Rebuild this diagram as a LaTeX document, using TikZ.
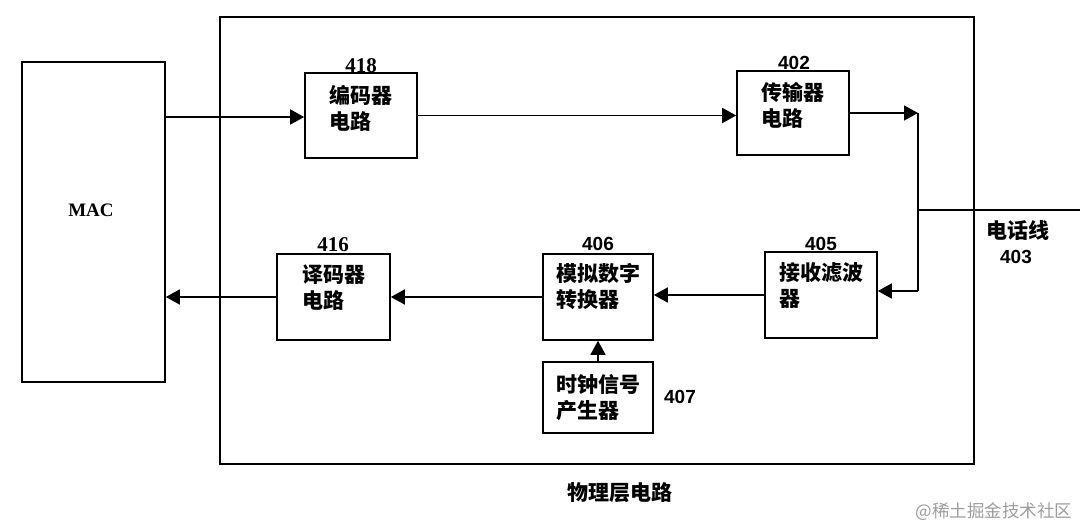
\documentclass[tikz,border=0pt]{standalone}
\usepackage{fontspec}
\usetikzlibrary{arrows.meta}
\setmainfont{Liberation Serif}
\newfontfamily\cjk{Noto Sans CJK SC}
\newfontfamily\numf{Liberation Sans}
\tikzset{
  blk/.style={draw, line width=1.6pt, inner sep=0pt},
  txt/.style={align=left, inner sep=0pt, font=\cjk\bfseries\fontsize{21}{26}\selectfont},
  lbl/.style={inner sep=0pt, font=\numf\bfseries\fontsize{19}{20}\selectfont},
  slbl/.style={inner sep=0pt, font=\bfseries\fontsize{21}{22}\selectfont},
  arr/.style={line width=1.6pt, -{Triangle[length=14pt,width=15pt]}},
  ln/.style={line width=1.5pt}
}
\begin{document}
\begin{tikzpicture}[x=1pt,y=-1pt]
\useasboundingbox[fill=white] (0,0) rectangle (1080,529);
% outer boxes
\node[blk, line width=1.4pt, minimum width=754pt, minimum height=447pt] (phy) at (597,240.5) {};
\node[blk, minimum width=143pt, minimum height=320pt] (mac) at (93.5,222) {};
\node[inner sep=0pt, font=\bfseries\fontsize{19}{20}\selectfont] (macT) at (91,210) {MAC};
% blocks
\node[blk, minimum width=112pt, minimum height=85pt] (enc) at (361,115.5) {};
\node[txt] (encT) at ([yshift=7pt]enc.center) {编码器\\电路};
\node[slbl] (encL) at (361,66) {418};

\node[blk, minimum width=112pt, minimum height=84pt] (tx) at (793,113) {};
\node[txt] (txT) at ([yshift=7.5pt]tx.center) {传输器\\电路};
\node[lbl] (txL) at (794,63) {402};

\node[blk, minimum width=113pt, minimum height=86pt] (dec) at (333.5,297) {};
\node[txt] (decT) at ([yshift=9pt]dec.center) {译码器\\电路};
\node[slbl] (decL) at (333,245) {416};

\node[blk, minimum width=110pt, minimum height=86pt] (adc) at (598,297) {};
\node[txt] (adcT) at ([yshift=10pt]adc.center) {模拟数字\\转换器};
\node[lbl] (adcL) at (598,243.5) {406};

\node[blk, minimum width=112pt, minimum height=86pt] (rx) at (821,295) {};
\node[txt] (rxT) at ([yshift=9pt]rx.center) {接收滤波\\器};
\node[lbl] (rxL) at (821,243.5) {405};

\node[blk, minimum width=110pt, minimum height=71pt] (clk) at (598,397.5) {};
\node[txt] (clkT) at (clk.center) {时钟信号\\产生器};
\node[lbl] (clkL) at (680,397) {407};

% phone line labels
\node[txt, align=center] (telT) at (1018,230) {电话线};
\node[lbl] (telL) at (1016,257) {403};

% caption and watermark
\node[txt] (cap) at (620,493) {物理层电路};
\node[inner sep=0pt, text=black!38, font=\cjk\fontsize{17.5}{20}\selectfont] (wm) at (994,512) {@稀土掘金技术社区};

% junctions
\coordinate (j1) at (918,113);
\coordinate (j2) at (918,291);
\coordinate (j3) at (918,210);
\coordinate (tel) at (1080,210);

% connectors
\draw[arr] (mac.east |- 0,117) -- (mac.east |- 0,117 -| enc.west);
\draw[arr] (enc.east) -- (enc.east -| tx.west);
\draw[arr] (tx.east) -- (j1);
\draw[ln] (j1) -- (j2);
\draw[ln] (j3) -- (tel);
\draw[arr] (j2) -- (j2 -| rx.east);
\draw[arr] (rx.west) -- (rx.west -| adc.east);
\draw[arr] (adc.west) -- (adc.west -| dec.east);
\draw[arr] (dec.west) -- (dec.west -| mac.east);
\draw[arr] (clk.north) -- (adc.south);
\end{tikzpicture}
\end{document}
